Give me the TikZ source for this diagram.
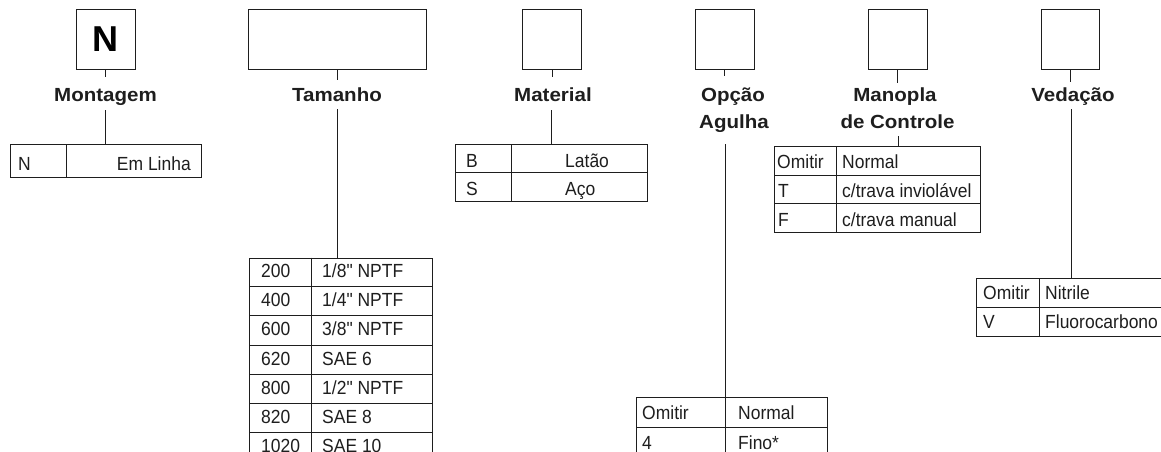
\documentclass[tikz,border=0pt]{standalone}
\usepackage{fontspec}
\setmainfont{Liberation Sans}
\newfontfamily\tabfont{Liberation Sans}[FakeStretch=0.92]
\newfontfamily\labfont{Liberation Sans}[FakeStretch=1.08]
\definecolor{ink}{HTML}{1E1E1E}
\begin{document}
\begin{tikzpicture}[x=1pt,y=-1pt,
  codebox/.style={draw=ink, line width=1pt, minimum height=59pt, minimum width=#1, inner sep=0pt},
  lab/.style={font=\labfont\bfseries\fontsize{19}{23}\selectfont, text=ink, inner sep=0pt, anchor=base},
  cell/.style={font=\tabfont\fontsize{19}{23}\selectfont, text=ink, inner sep=0pt, anchor=base west},
  tabbox/.style={draw=ink, line width=0.9pt, inner sep=0pt, anchor=north west},
  conn/.style={draw=ink, line width=0.9pt},
  gridline/.style={draw=ink, line width=0.9pt}]
\useasboundingbox (0,0) rectangle (1161,452);
\clip (0,0) rectangle (1161,452);

% ---------- Montagem ----------
\node[codebox=59pt] (bM) at (105.5,39.5) {\fontsize{36}{40}\selectfont\bfseries N};
\coordinate (tM) at (105.5,77);
\draw[conn] (bM.south) -- (tM);
\node[lab] (lM) at (105.5,101.5) {Montagem};
\coordinate (dM) at (105.5,110);
\node[tabbox, minimum width=191pt, minimum height=33pt] (tabM) at (10,144) {};
\draw[conn] (dM) -- (tabM.north -| dM);
\draw[gridline] (66,144) -- (66,177);
\node[cell] at (18,170) {N};
\node[cell, anchor=base east] at (191,170) {Em Linha};

% ---------- Tamanho ----------
\node[codebox=178pt] (bT) at (337,39.5) {};
\coordinate (tT) at (337,80);
\draw[conn] (bT.south) -- (tT);
\node[lab] (lT) at (337,101.5) {Tamanho};
\coordinate (dT) at (337,109);
\node[tabbox, minimum width=183pt, minimum height=233pt] (tabT) at (249,257.5) {};
\draw[conn] (dT) -- (tabT.north -| dT);
\draw[gridline] (311,257.5) -- (311,490);
\foreach \k in {1,...,7} {\draw[gridline] (249,257.5+29.17*\k) -- (432,257.5+29.17*\k);}
\foreach \k/\a/\b in {0/200/{1/8" NPTF},1/400/{1/4" NPTF},2/600/{3/8" NPTF},3/620/{SAE 6},4/800/{1/2" NPTF},5/820/{SAE 8},6/1020/{SAE 10}} {
  \node[cell] at (261,277.5+29.17*\k) {\a};
  \node[cell] at (322,277.5+29.17*\k) {\b};
}

% ---------- Material ----------
\node[codebox=59pt] (bMa) at (552,39.5) {};
\coordinate (tMa) at (552,77);
\draw[conn] (bMa.south) -- (tMa);
\node[lab] (lMa) at (553,101.5) {Material};
\coordinate (dMa) at (551,110);
\node[tabbox, minimum width=192pt, minimum height=57pt] (tabMa) at (455,144) {};
\draw[conn] (dMa) -- (tabMa.north -| dMa);
\draw[gridline] (511,144) -- (511,201);
\draw[gridline] (455,172.5) -- (647,172.5);
\node[cell] at (466,167) {B};
\node[cell] at (565,167) {Latão};
\node[cell] at (466,195.5) {S};
\node[cell] at (565,195.5) {Aço};

% ---------- Opcao Agulha ----------
\node[codebox=59pt] (bO) at (724.5,39.5) {};
\coordinate (tO) at (724.5,76);
\draw[conn] (bO.south) -- (tO);
\node[lab] (lO1) at (733,101) {Opção};
\node[lab] (lO2) at (734,128) {Agulha};
\coordinate (dO) at (725.5,144);
\node[tabbox, minimum width=191pt, minimum height=60pt] (tabO) at (636,397) {};
\draw[conn] (dO) -- (tabO.north -| dO);
\draw[gridline] (725.5,397) -- (725.5,457);
\draw[gridline] (636,427) -- (827,427);
\node[cell] at (642,419) {Omitir};
\node[cell] at (738,419) {Normal};
\node[cell] at (642,449) {4};
\node[cell] at (738,449) {Fino*};

% ---------- Manopla de Controle ----------
\node[codebox=59pt] (bC) at (897.5,39.5) {};
\coordinate (tC) at (897.5,83);
\draw[conn] (bC.south) -- (tC);
\node[lab] (lC1) at (895,101) {Manopla};
\node[lab] (lC2) at (897.5,128) {de Controle};
\coordinate (dC) at (898,136);
\node[tabbox, minimum width=206pt, minimum height=86pt] (tabC) at (774,146) {};
\draw[conn] (dC) -- (tabC.north -| dC);
\draw[gridline] (836,146) -- (836,232);
\draw[gridline] (774,175) -- (980,175);
\draw[gridline] (774,203.5) -- (980,203.5);
\node[cell] at (777,168) {Omitir};
\node[cell] at (842,168) {Normal};
\node[cell] at (778,197) {T};
\node[cell] at (842,197) {c/trava inviolável};
\node[cell] at (778,226) {F};
\node[cell] at (842,226) {c/trava manual};

% ---------- Vedacao ----------
\node[codebox=58pt] (bV) at (1070,39.5) {};
\coordinate (tV) at (1070,82);
\draw[conn] (bV.south) -- (tV);
\node[lab] (lV) at (1073,101.5) {Vedação};
\coordinate (dV) at (1071,109);
\node[tabbox, minimum width=184.5pt, minimum height=58pt] (tabV) at (976,278) {};
\draw[conn] (dV) -- (tabV.north -| dV);
\draw[gridline] (1039,278) -- (1039,336);
\draw[gridline] (976,307) -- (1160.5,307);
\node[cell] at (983,299) {Omitir};
\node[cell] at (1045,299) {Nitrile};
\node[cell] at (983,328) {V};
\node[cell] at (1045,328) {Fluorocarbono};
\end{tikzpicture}
\end{document}
